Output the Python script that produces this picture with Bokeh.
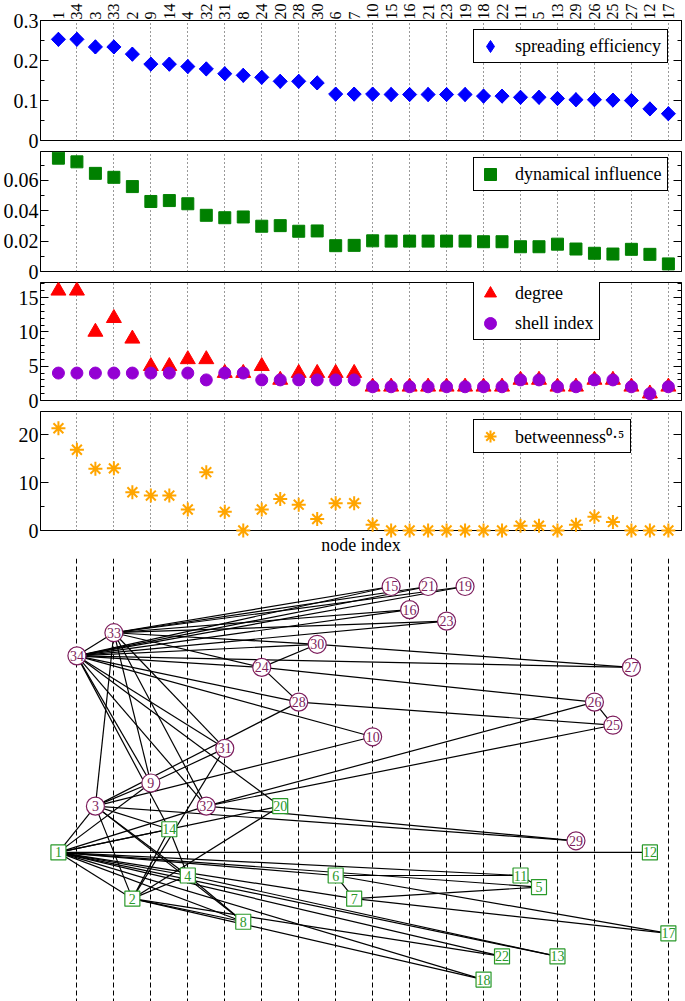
import math
from bokeh.plotting import figure
from bokeh.layouts import column
from bokeh.models import Range1d, FixedTicker, LinearAxis, ColumnDataSource
from bokeh.core.properties import value
from bokeh.embed import file_html
from bokeh.resources import INLINE

# ---------------- data ----------------
order = [1, 34, 3, 33, 2, 9, 14, 4, 32, 31, 8, 24, 20, 28, 30, 6, 7, 10, 15, 16,
         21, 23, 19, 18, 22, 11, 5, 13, 29, 26, 25, 27, 12, 17]
spreading = [0.253, 0.253, 0.234, 0.234, 0.216, 0.191, 0.191, 0.185, 0.179, 0.167,
             0.163, 0.158, 0.148, 0.148, 0.144, 0.116, 0.116, 0.116, 0.115, 0.115,
             0.115, 0.115, 0.115, 0.111, 0.111, 0.108, 0.108, 0.105, 0.102, 0.102,
             0.101, 0.100, 0.079, 0.067]
dynamical = [0.0746, 0.0722, 0.0646, 0.0620, 0.0559, 0.0461, 0.0467, 0.0446, 0.0370, 0.0354,
             0.0359, 0.0298, 0.0302, 0.0265, 0.0267, 0.0170, 0.0172, 0.0202, 0.0200, 0.0200,
             0.0200, 0.0200, 0.0200, 0.0196, 0.0196, 0.0163, 0.0163, 0.0180, 0.0148, 0.0120,
             0.0115, 0.0146, 0.0113, 0.0050]
degree = [16, 16, 10, 12, 9, 5, 5, 6, 6, 4, 4, 5, 3, 4, 4, 4, 4, 2, 2, 2,
          2, 2, 2, 2, 2, 3, 3, 2, 2, 3, 3, 2, 1, 2]
shell = [4, 4, 4, 4, 4, 4, 4, 4, 3, 4, 4, 3, 3, 3, 3, 3, 3, 2, 2, 2,
         2, 2, 2, 2, 2, 3, 3, 2, 2, 3, 3, 2, 1, 2]
betweenness = [21.4, 16.9, 12.9, 13.0, 8.0, 7.3, 7.3, 4.4, 12.2, 3.9,
               0.0, 4.4, 6.6, 5.4, 2.4, 5.7, 5.7, 1.2, 0.0, 0.0,
               0.0, 0.0, 0.0, 0.0, 0.0, 1.0, 1.0, 0.0, 1.2, 2.9,
               1.8, 0.0, 0.0, 0.0]

# network drawing: vertical level of each node (x = its rank in `order`)
net_nodes = [15, 21, 19, 16, 23, 33, 30, 34, 27, 24, 28, 26, 25, 10, 31, 9, 3, 32, 20, 14,
             29, 1, 12, 4, 6, 11, 5, 2, 7, 8, 17, 22, 13, 18]
net_level = [0, 0, 0, 2, 3, 4, 5, 6, 7, 7, 10, 10, 12, 13, 14, 17, 19, 19, 19, 21,
             22, 23, 23, 25, 25, 25, 26, 27, 27, 29, 30, 32, 32, 34]
square_nodes = [1, 2, 4, 5, 6, 7, 8, 11, 12, 13, 14, 17, 18, 20, 22]
edges = [(2, 1), (3, 1), (3, 2), (4, 1), (4, 2), (4, 3), (5, 1), (6, 1), (7, 1), (7, 5),
         (7, 6), (8, 1), (8, 2), (8, 3), (8, 4), (9, 1), (9, 3), (10, 3), (11, 1), (11, 5),
         (11, 6), (12, 1), (13, 1), (13, 4), (14, 1), (14, 2), (14, 3), (14, 4), (17, 6), (17, 7),
         (18, 1), (18, 2), (20, 1), (20, 2), (22, 1), (22, 2), (26, 24), (26, 25), (28, 3), (28, 24),
         (28, 25), (29, 3), (30, 24), (30, 27), (31, 2), (31, 9), (32, 1), (32, 25), (32, 26), (32, 29),
         (33, 3), (33, 9), (33, 15), (33, 16), (33, 19), (33, 21), (33, 23), (33, 24), (33, 30), (33, 31),
         (33, 32), (34, 9), (34, 10), (34, 14), (34, 15), (34, 16), (34, 19), (34, 20), (34, 21), (34, 23),
         (34, 24), (34, 27), (34, 28), (34, 30), (34, 31), (34, 32), (34, 33)]

# ---------------- styling / layout ----------------
FONT = "Liberation Serif"
X_START, X_END = -0.97, 33.71
FW = 641
BL, BR = 38, 6
idx = list(range(len(order)))
odd = idx[1::2]


def panel(fh, y0, y1, ticks, minor, bt, bb, xloc=None):
    p = figure(frame_width=FW, frame_height=fh,
               x_range=Range1d(X_START, X_END), y_range=Range1d(y0, y1),
               output_backend="svg", toolbar_location=None, x_axis_location=xloc,
               min_border_left=BL, min_border_right=BR,
               min_border_top=bt, min_border_bottom=bb)
    p.outline_line_color = "black"
    p.outline_line_width = 1
    p.outline_line_alpha = 1
    p.ygrid.visible = False
    p.xgrid.ticker = FixedTicker(ticks=odd)
    p.xgrid.grid_line_color = "#333333"
    p.xgrid.grid_line_dash = "1 3"
    p.xgrid.grid_line_width = 1
    ya = p.yaxis[0]
    ya.ticker = FixedTicker(ticks=ticks, minor_ticks=minor)
    ya.major_tick_in = 8
    ya.major_tick_out = 0
    ya.minor_tick_in = 4
    ya.minor_tick_out = 0
    ya.major_tick_line_color = "black"
    ya.minor_tick_line_color = "black"
    ya.axis_line_color = "black"
    ya.major_label_text_font = FONT
    ya.major_label_text_font_size = "20px"
    ya.major_label_text_color = "black"
    ya.major_label_standoff = 2
    ya.major_label_overrides = {0: "0"}
    ra = LinearAxis(ticker=FixedTicker(ticks=ticks, minor_ticks=minor),
                    major_tick_in=8, major_tick_out=0, minor_tick_in=4, minor_tick_out=0,
                    major_label_text_font_size="0px", major_label_text_color=None,
                    major_label_text_alpha=0, major_label_standoff=0,
                    axis_line_color="black", major_tick_line_color="black",
                    minor_tick_line_color="black")
    p.add_layout(ra, "right")
    return p


def style_legend(p, x, y, spacing=0):
    lg = p.legend[0]
    lg.location = (x, y)
    lg.margin = 0
    lg.padding = 1
    lg.spacing = spacing
    lg.label_height = 21
    lg.glyph_height = 30
    lg.glyph_width = 30
    lg.label_standoff = 10
    lg.label_text_font = FONT
    lg.label_text_font_size = "18px"
    lg.label_text_color = "black"
    lg.border_line_color = "black"
    lg.border_line_width = 1
    lg.border_line_alpha = 1
    lg.background_fill_color = "white"
    lg.background_fill_alpha = 1


LEG_X = 433

# panel 1: spreading efficiency
p1 = panel(120, 0, 0.3001, [0, 0.1, 0.2, 0.3], [0.05, 0.15, 0.25], 18, 10, xloc="above")
xa = p1.xaxis[0]
xa.ticker = FixedTicker(ticks=idx)
xa.major_label_overrides = {i: str(n) for i, n in enumerate(order)}
xa.major_label_orientation = "vertical"
xa.major_tick_in = 0
xa.major_tick_out = 0
xa.minor_tick_in = 0
xa.minor_tick_out = 0
xa.major_label_text_font = FONT
xa.major_label_text_font_size = "16px"
xa.major_label_text_color = "black"
xa.major_label_standoff = 1
# diamond renderer (gives the legend key) lies hidden under the equal-sided diamonds
p1.scatter(idx, spreading, marker="diamond", size=14, color="#0000ff",
           legend_label="spreading efficiency ")
p1.scatter(idx, spreading, marker="square", angle=math.pi / 4, size=10, color="#0000ff")
style_legend(p1, LEG_X, 77)

# panel 2: dynamical influence
p2 = panel(120, 0, 0.079, [0, 0.02, 0.04, 0.06], [0.01, 0.03, 0.05, 0.07], 1, 10)
p2.scatter(idx, dynamical, marker="square", size=12, color="#008000",
           legend_label="dynamical influence ")
style_legend(p2, LEG_X, 80)

# panel 3: degree and shell index
p3 = panel(118, 0, 17.2, [0, 5, 10, 15],
           [1, 2, 3, 4, 6, 7, 8, 9, 11, 12, 13, 14, 16, 17], 1, 10)
p3.scatter(idx, degree, marker="triangle", size=15, color="#ff0000", legend_label="degree")
p3.scatter(idx, shell, marker="circle", size=12, color="#9400d3", legend_label="shell index ")
style_legend(p3, LEG_X, 60, spacing=-10)

# panel 4: betweenness^0.5
p4 = panel(119, 0, 24.9, [0, 10, 20], [5, 15], 1, 26, xloc="below")
xb = p4.xaxis[0]
xb.ticker = FixedTicker(ticks=[])
xb.axis_line_color = None
xb.major_tick_out = 0
xb.major_tick_in = 0
xb.minor_tick_out = 0
xb.axis_label = "node index"
xb.axis_label_text_font = FONT
xb.axis_label_text_font_size = "18px"
xb.axis_label_text_font_style = "normal"
xb.axis_label_text_color = "black"
xb.axis_label_standoff = 4
r4 = p4.scatter(idx, betweenness, marker="asterisk", size=14, line_color="#ffa500",
                line_width=2, legend_label="betweenness\u2070\u00b7\u2075 ")
r4.level = "overlay"
style_legend(p4, LEG_X, 77)

# panel 5: network drawing
rank = {n: i for i, n in enumerate(order)}
level = dict(zip(net_nodes, net_level))
p5 = figure(frame_width=FW, frame_height=445,
            x_range=Range1d(X_START, X_END), y_range=Range1d(36.07, -2.42),
            output_backend="svg", toolbar_location=None,
            x_axis_location=None, y_axis_location=None,
            min_border_left=BL, min_border_right=BR, min_border_top=1, min_border_bottom=0)
p5.outline_line_color = None
p5.ygrid.visible = False
p5.xgrid.ticker = FixedTicker(ticks=odd)
p5.xgrid.grid_line_color = "black"
p5.xgrid.grid_line_dash = "5 3"
p5.xgrid.grid_line_width = 1

p5.segment(x0=[rank[a] for a, b in edges], y0=[level[a] for a, b in edges],
           x1=[rank[b] for a, b in edges], y1=[level[b] for a, b in edges],
           line_color="black", line_width=1.2)

PURPLE = "#7e1f5e"
GREEN = "#2a992a"
circ = [n for n in net_nodes if n not in square_nodes]
sq = [n for n in net_nodes if n in square_nodes]
csrc = ColumnDataSource(dict(x=[rank[n] for n in circ], y=[level[n] for n in circ],
                             t=[str(n) for n in circ]))
ssrc = ColumnDataSource(dict(x=[rank[n] for n in sq], y=[level[n] for n in sq],
                             t=[str(n) for n in sq]))
p5.scatter("x", "y", source=csrc, marker="circle", size=18, fill_color="white",
           line_color=PURPLE, line_width=1.2)
p5.text("x", "y", text="t", source=csrc, text_font=value(FONT), text_font_size="14px",
        text_color=PURPLE, text_align="center", text_baseline="middle")
p5.scatter("x", "y", source=ssrc, marker="square", size=15, fill_color="white",
           line_color=GREEN, line_width=1.2)
p5.text("x", "y", text="t", source=ssrc, text_font=value(FONT), text_font_size="14px",
        text_color=GREEN, text_align="center", text_baseline="middle")

layout = column(p1, p2, p3, p4, p5, spacing=0)
open("out.html", "w").write(file_html(layout, INLINE))
